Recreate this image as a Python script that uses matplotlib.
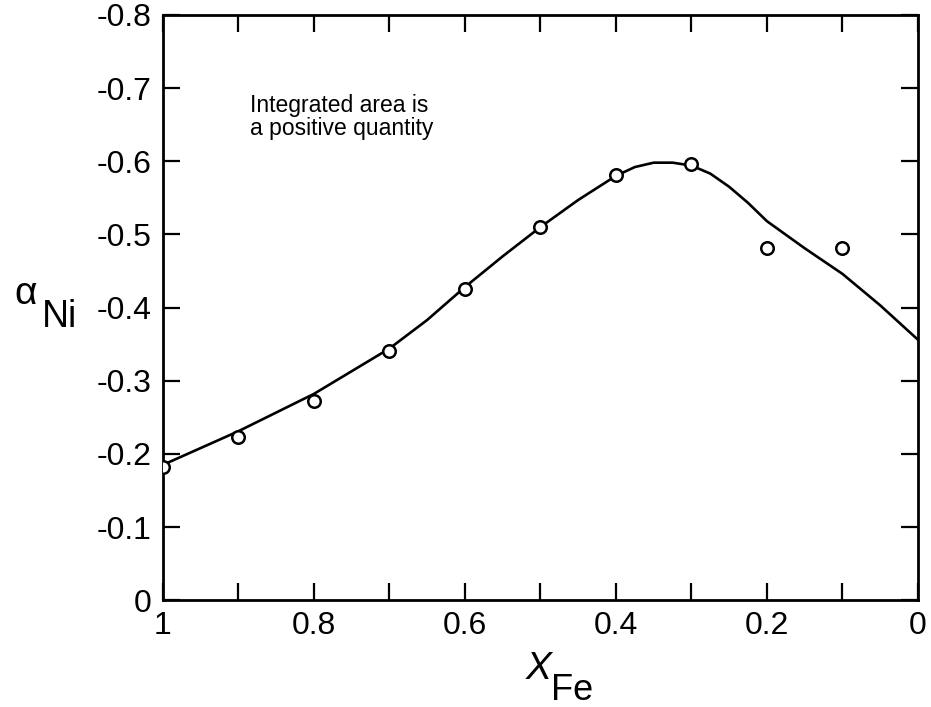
import matplotlib
matplotlib.use('Agg')
import matplotlib.pyplot as plt

plt.rcParams['font.family'] = ['Liberation Sans', 'DejaVu Sans']
plt.rcParams['axes.unicode_minus'] = False

# measured points (open circles)
x_pts = [1.0, 0.9, 0.8, 0.7, 0.6, 0.5, 0.4, 0.3, 0.2, 0.1]
a_pts = [-0.182, -0.223, -0.272, -0.340, -0.425, -0.510, -0.581, -0.596, -0.481, -0.481]

# fitted curve
x_fit = [1.0, 0.9, 0.8, 0.7, 0.65, 0.6, 0.55, 0.5, 0.45, 0.4, 0.375, 0.35,
         0.325, 0.3, 0.275, 0.25, 0.225, 0.2, 0.15, 0.1, 0.05, 0.0]
a_fit = [-0.185, -0.231, -0.282, -0.344, -0.383, -0.428, -0.470, -0.510,
         -0.547, -0.580, -0.592, -0.598, -0.598, -0.594, -0.583, -0.565,
         -0.543, -0.518, -0.481, -0.446, -0.403, -0.356]

x_ticks = [1.0, 0.8, 0.6, 0.4, 0.2, 0.0]
x_ticklabels = ['1', '0.8', '0.6', '0.4', '0.2', '0']
y_ticks = [0, -0.1, -0.2, -0.3, -0.4, -0.5, -0.6, -0.7, -0.8]
y_ticklabels = ['0', '-0.1', '-0.2', '-0.3', '-0.4', '-0.5', '-0.6', '-0.7', '-0.8']

fig = plt.figure(figsize=(9.31, 7.07), dpi=100)
ax = fig.add_axes([0.175, 0.151, 0.811, 0.828])

ax.plot(x_fit, a_fit, color='black', lw=1.9, zorder=2)
ax.plot(x_pts, a_pts, 'o', ms=9, mfc='white', mec='black', mew=1.8, zorder=3)

ax.set_xlim(1, 0)
ax.set_ylim(0, -0.8)
ax.set_xticks([1.0, 0.9, 0.8, 0.7, 0.6, 0.5, 0.4, 0.3, 0.2, 0.1, 0.0], minor=True)
ax.set_xticks(x_ticks)
ax.set_xticklabels(x_ticklabels)
ax.set_yticks(y_ticks)
ax.set_yticklabels(y_ticklabels)

ax.tick_params(which='both', direction='in', top=True, right=True,
               length=12, width=1.6, labelsize=23, pad=8)
for s in ax.spines.values():
    s.set_linewidth(2)

ax.text(0.885, -0.667, 'Integrated area is', fontsize=16.5, va='baseline', ha='left')
ax.text(0.885, -0.636, 'a positive quantity', fontsize=16.5, va='baseline', ha='left')

fig.text(0.028, 0.584, 'α', fontsize=28, ha='center', va='center')
fig.text(0.064, 0.551, 'Ni', fontsize=27, ha='center', va='center')
fig.text(0.579, 0.054, 'X', fontsize=28, style='italic', ha='center', va='center')
fig.text(0.614, 0.024, 'Fe', fontsize=26, ha='center', va='center')

fig.savefig('out.png', dpi=100)
